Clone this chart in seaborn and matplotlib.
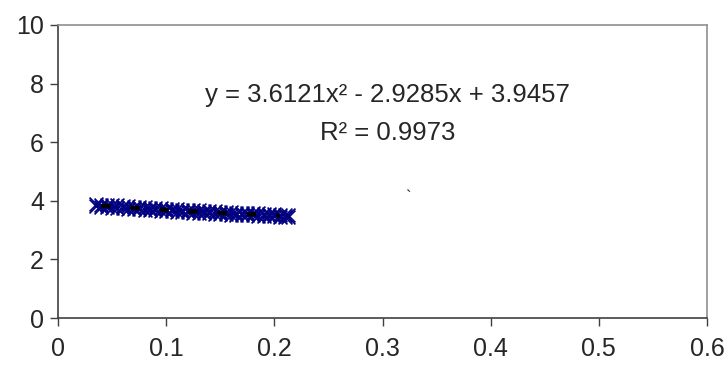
import numpy as np
import pandas as pd
import matplotlib
matplotlib.use("Agg")
import matplotlib.pyplot as plt
import seaborn as sns

# data
x_vals = [0.035, 0.040, 0.045, 0.050, 0.055, 0.060, 0.065, 0.070, 0.075, 0.080,
          0.085, 0.090, 0.095, 0.100, 0.105, 0.110, 0.115, 0.120, 0.125, 0.130,
          0.135, 0.140, 0.145, 0.150, 0.155, 0.160, 0.165, 0.170, 0.175, 0.180,
          0.185, 0.190, 0.195, 0.200, 0.205, 0.210, 0.213]
y_upper = [3.89, 3.87, 3.86, 3.85, 3.84, 3.82, 3.81, 3.80, 3.79, 3.78,
           3.76, 3.75, 3.74, 3.73, 3.72, 3.71, 3.70, 3.69, 3.68, 3.67,
           3.66, 3.65, 3.64, 3.63, 3.62, 3.61, 3.60, 3.59, 3.58, 3.57,
           3.57, 3.56, 3.55, 3.54, 3.53, 3.53, 3.52]
y_lower = [3.81, 3.79, 3.78, 3.77, 3.76, 3.74, 3.73, 3.72, 3.71, 3.70,
           3.69, 3.67, 3.66, 3.65, 3.64, 3.63, 3.62, 3.61, 3.60, 3.59,
           3.58, 3.57, 3.56, 3.55, 3.54, 3.53, 3.52, 3.51, 3.51, 3.50,
           3.49, 3.48, 3.47, 3.47, 3.46, 3.45, 3.45]

# trendline from the label
coef = [3.6121, -2.9285, 3.9457]
r2 = 0.9973

df = pd.DataFrame({
    "x": x_vals + x_vals,
    "y": y_upper + y_lower,
})

sns.set_style("white")
plt.rcParams['font.family'] = ['Liberation Sans', 'DejaVu Sans']

fig = plt.figure(figsize=(7.28, 3.67), dpi=100)
ax = fig.add_axes([58 / 728, 49 / 367, 649 / 728, 293 / 367])

sns.scatterplot(data=df, x="x", y="y", marker="x", color="#000080",
                s=100, linewidth=1.2, ax=ax, legend=False, zorder=2)

xs = np.linspace(0.04, 0.205, 200)
ax.plot(xs, np.polyval(coef, xs), color="black", lw=3, dashes=(2.2, 4.8), zorder=3)

ax.text(0.305, 7.6, "y = 3.6121x² - 2.9285x + 3.9457", ha="center", va="center", fontsize=18.5)
ax.text(0.305, 6.3, "R² = %.4f" % r2, ha="center", va="center", fontsize=18.5)
ax.text(0.3236, 4.1, "`", ha="center", va="center", fontsize=12)

ax.set_xlim(0, 0.6)
ax.set_ylim(0, 10)
ax.set_xticks([0, 0.1, 0.2, 0.3, 0.4, 0.5, 0.6])
ax.set_xticklabels(["0", "0.1", "0.2", "0.3", "0.4", "0.5", "0.6"])
ax.set_yticks([0, 2, 4, 6, 8, 10])
ax.set_xlabel("")
ax.set_ylabel("")
ax.tick_params(axis="both", direction="out", length=6, width=1, labelsize=18,
               bottom=True, left=True, color="#404040")
ax.tick_params(axis="x", pad=8)
ax.tick_params(axis="y", pad=4)

for side in ["left", "bottom"]:
    ax.spines[side].set_color("#404040")
    ax.spines[side].set_linewidth(1.2)
for side in ["top", "right"]:
    ax.spines[side].set_color("#909090")
    ax.spines[side].set_linewidth(1.2)

fig.savefig("out.png", dpi=100)
